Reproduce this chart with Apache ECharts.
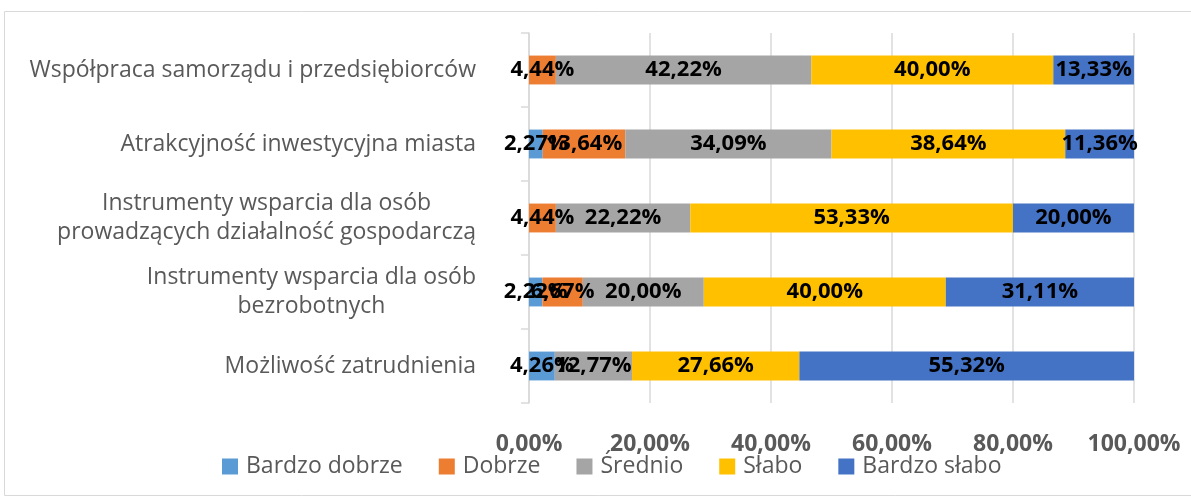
<!DOCTYPE html>
<html>
<head>
<meta charset="utf-8">
<script src="https://cdn.jsdelivr.net/npm/echarts@6/dist/echarts.min.js"></script>
<style>
  html, body { margin: 0; padding: 0; background: #fff; }
  #ocena { width: 1191px; height: 499px; }
</style>
</head>
<body>
<div id="ocena"></div>
<script>
"use strict";
// kategorie od dołu do góry
var kategorie = [
  "Możliwość zatrudnienia",
  "Instrumenty wsparcia dla osób\nbezrobotnych",
  "Instrumenty wsparcia dla osób\nprowadzących działalność gospodarczą",
  "Atrakcyjność inwestycyjna miasta",
  "Współpraca samorządu i przedsiębiorców"
];
var bardzoDobrze = [4.26, 2.22, 0, 2.27, 0];
var dobrze = [0, 6.67, 4.44, 13.64, 4.44];
var srednio = [12.77, 20.00, 22.22, 34.09, 42.22];
var slabo = [27.66, 40.00, 53.33, 38.64, 40.00];
var bardzoSlabo = [55.32, 31.11, 20.00, 11.36, 13.33];
var osX = [0, 20, 40, 60, 80, 100];

var kolory = ['#5B9BD5', '#ED7D31', '#A5A5A5', '#FFC000', '#4472C4'];
var font = "'Open Sans', 'DejaVu Sans', sans-serif";

var myChart = echarts.init(document.getElementById('ocena'));

var procent = function(v){
  return v.toFixed(2).replace('.', ',') + '%';
};

var seria = function(name, data){
  return {
    name: name,
    type: 'bar',
    stack: 'suma',
    barCategoryGap: '61%',
    data: data,
    label: {
      show: true,
      position: 'inside',
      color: '#000',
      fontFamily: font,
      fontWeight: 'bold',
      fontSize: 22,
      formatter: function(p){
        return p.value > 0 ? procent(p.value) : '';
      }
    }
  };
};

var option = {
  color: kolory,
  animation: false,
  textStyle: { fontFamily: font },
  graphic: [{
    type: 'rect',
    shape: { x: 4.5, y: 11.5, width: 1200, height: 484 },
    style: { fill: 'none', stroke: '#d9d9d9', lineWidth: 1 },
    silent: true
  }],
  grid: {
    left: 529,
    right: 57,
    top: 33,
    bottom: 96
  },
  xAxis: {
    type: 'value',
    min: 0,
    max: 100,
    interval: 20,
    axisLine: { show: false },
    axisTick: { show: false },
    splitLine: { lineStyle: { color: '#d9d9d9', width: 1.5 } },
    axisLabel: {
      margin: 30,
      color: '#595959',
      fontFamily: font,
      fontWeight: 'bold',
      fontSize: 23,
      formatter: function(v){
        return osX.indexOf(v) >= 0 ? procent(v) : '';
      }
    }
  },
  yAxis: {
    type: 'category',
    data: kategorie,
    axisLine: { lineStyle: { color: '#d9d9d9', width: 1.5 } },
    axisTick: { show: true, length: 8, lineStyle: { color: '#d9d9d9', width: 1.5 } },
    axisLabel: {
      margin: 53,
      color: '#595959',
      fontFamily: font,
      fontSize: 23,
      lineHeight: 29,
      formatter: function(v){
        return v.split('\n').map(function(l){ return '{c|' + l + '}'; }).join('\n');
      },
      rich: {
        c: { align: 'center', color: '#595959', fontFamily: font, fontSize: 23, lineHeight: 29 }
      }
    }
  },
  legend: {
    left: 217,
    bottom: 16,
    itemWidth: 16,
    itemHeight: 16,
    itemGap: 36,
    icon: 'rect',
    textStyle: { color: '#595959', fontFamily: font, fontSize: 23, padding: [0, 0, 0, 3] },
    data: ['Bardzo dobrze', 'Dobrze', 'Średnio', 'Słabo', 'Bardzo słabo']
  },
  series: [
    seria('Bardzo dobrze', bardzoDobrze),
    seria('Dobrze', dobrze),
    seria('Średnio', srednio),
    seria('Słabo', slabo),
    seria('Bardzo słabo', bardzoSlabo)
  ]
};

myChart.setOption(option);
</script>
</body>
</html>
